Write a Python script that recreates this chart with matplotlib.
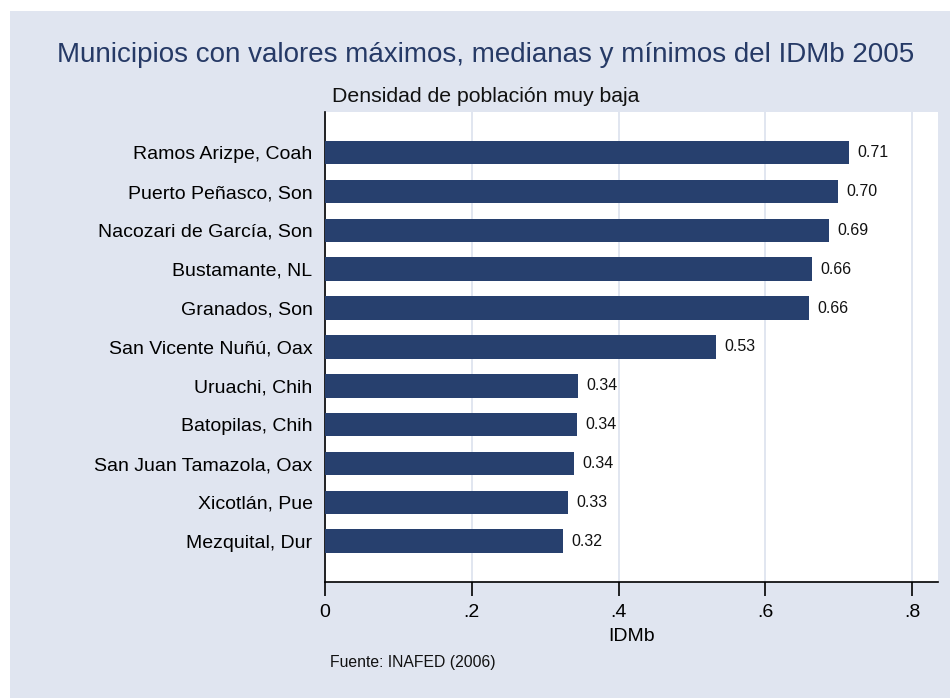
import matplotlib
matplotlib.use("Agg")
import matplotlib.pyplot as plt
from matplotlib.patches import Rectangle
from matplotlib import font_manager as fm

municipios = ["Ramos Arizpe, Coah", "Puerto Peñasco, Son", "Nacozari de García, Son",
              "Bustamante, NL", "Granados, Son", "San Vicente Nuñú, Oax",
              "Uruachi, Chih", "Batopilas, Chih", "San Juan Tamazola, Oax",
              "Xicotlán, Pue", "Mezquital, Dur"]
idmb = [0.7137, 0.6988, 0.687, 0.6641, 0.6596, 0.5326, 0.3446, 0.3433, 0.3392, 0.3311, 0.3249]
xticks = [0, 0.2, 0.4, 0.6, 0.8]
xticklabels = ["0", ".2", ".4", ".6", ".8"]

names = {f.name for f in fm.fontManager.ttflist}
fam = "Liberation Sans Narrow" if "Liberation Sans Narrow" in names else "Liberation Sans"
plt.rcParams["font.family"] = [fam, "DejaVu Sans"]

W, H = 950, 698
fig = plt.figure(figsize=(W / 100, H / 100), dpi=100, facecolor="white")
bg = "#E0E5F0"
fig.patches.append(Rectangle((10 / W, 0), 940 / W, (H - 11) / H, transform=fig.transFigure,
                             facecolor=bg, edgecolor="none", zorder=-10))

ax = fig.add_axes([325 / W, 116 / H, (937.7 - 325) / W, (582 - 112.3) / H])
ax.set_facecolor("white")
navy = "#27406E"
pos = list(range(len(municipios)))
ax.barh(pos, idmb, height=0.607, color=navy, zorder=3)
for p, v in zip(pos, idmb):
    ax.text(v + 0.011, p, f"{v:.2f}", va="center", ha="left", fontsize=11.5, color="#111111", zorder=4)

ax.set_ylim(len(municipios) - 1 + 1.05, -1.04)
ax.set_xlim(0, 0.8347)
ax.set_yticks(pos)
ax.set_yticklabels(municipios, fontsize=14)
ax.tick_params(axis="y", length=0, pad=9)
ax.set_xticks(xticks)
ax.set_xticklabels(xticklabels, fontsize=14)
ax.tick_params(axis="x", length=10, width=1.2, pad=6)
ax.grid(axis="x", color="#DCE2EE", linewidth=1.2, zorder=0)
for s in ["top", "right"]:
    ax.spines[s].set_visible(False)
ax.spines["left"].set_linewidth(1.2)
ax.spines["bottom"].set_linewidth(1.2)
ax.set_xlabel("IDMb", fontsize=14, labelpad=5)

fig.text(486 / W, 1 - 55 / H, "Municipios con valores máximos, medianas y mínimos del IDMb 2005",
         ha="center", va="center", fontsize=20, color="#263A66")
fig.text(486 / W, 1 - 97 / H, "Densidad de población muy baja", ha="center", va="center",
         fontsize=15.3, color="#111111")
fig.text(330 / W, 1 - 663 / H, "Fuente: INAFED (2006)", ha="left", va="center",
         fontsize=11.3, color="#111111")

fig.savefig("out.png", dpi=100, facecolor=fig.get_facecolor())
